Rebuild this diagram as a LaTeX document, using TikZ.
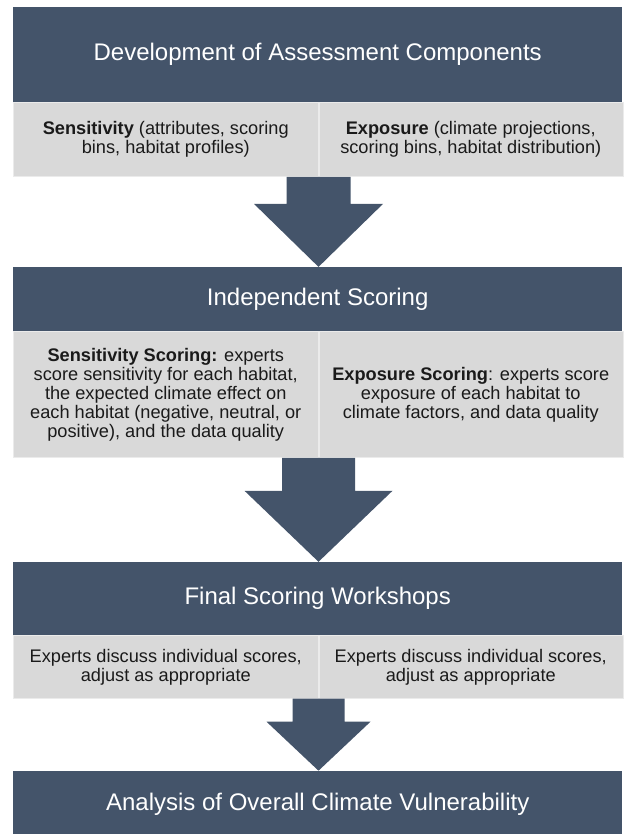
\documentclass[tikz,border=0pt]{standalone}
\usepackage{fontspec}
\setmainfont{Liberation Sans}
\usetikzlibrary{positioning,calc}

\definecolor{slate}{RGB}{68,84,106}
\definecolor{cellgray}{RGB}{217,217,217}
\definecolor{celltext}{RGB}{26,26,26}

\tikzset{
  header/.style={fill=slate, text=white, minimum width=609pt, inner sep=0pt, anchor=north west, font=\fontsize{24}{27}\selectfont},
  cell/.style={fill=cellgray, draw=white!92!black, line width=0.5pt, text=celltext, inner sep=0pt, anchor=north west, align=center, font=\fontsize{18.2}{19}\selectfont},
  flowarrow/.style={fill=slate}
}

% block arrow: from, to, shaft half width, head half width, shaft length
\newcommand{\blockarrow}[5]{%
  \fill[flowarrow] let \p1=(#1), \p2=(#2) in
    (\x1-#3,\y1) -- (\x1+#3,\y1) -- (\x1+#3,\y1-#5) -- (\x1+#4,\y1-#5)
    -- (\x1,\y2) -- (\x1-#4,\y1-#5) -- (\x1-#3,\y1-#5) -- cycle;}

\begin{document}
\begin{tikzpicture}[x=1pt,y=-1pt]
\useasboundingbox (0,0) rectangle (626,834);

% development
\node[header, minimum height=95pt] (dev) at (13,7) {Development of Assessment Components};
\node[cell, minimum width=305pt, minimum height=74pt] (devsens) at (dev.south west) {\textbf{Sensitivity} (attributes, scoring\\bins, habitat profiles)};
\node[cell, minimum width=304pt, minimum height=74pt] (devexpo) at (devsens.north east) {\textbf{Exposure} (climate projections,\\scoring bins, habitat distribution)};

% independent scoring
\node[header, minimum height=64pt, below=90pt of devsens.south west, anchor=north west] (indep) {Independent Scoring};
\node[cell, minimum width=305pt, minimum height=126pt] (indepsens) at (indep.south west) {\textbf{Sensitivity Scoring:} experts\\score sensitivity for each habitat,\\the expected climate effect on\\each habitat (negative, neutral, or\\positive), and the data quality};
\node[cell, minimum width=304pt, minimum height=126pt] (indepexpo) at (indepsens.north east) {\textbf{Exposure Scoring}: experts score\\exposure of each habitat to\\climate factors, and data quality};

% final workshops
\node[header, minimum height=73pt, below=104pt of indepsens.south west, anchor=north west] (final) {Final Scoring Workshops};
\node[cell, minimum width=305pt, minimum height=63pt] (finalsens) at (final.south west) {Experts discuss individual scores,\\adjust as appropriate};
\node[cell, minimum width=304pt, minimum height=63pt] (finalexpo) at (finalsens.north east) {Experts discuss individual scores,\\adjust as appropriate};

% analysis
\node[header, minimum height=66pt, below=72pt of finalsens.south west, anchor=north west] (analysis) {Analysis of Overall Climate Vulnerability};

% arrows
\blockarrow{devsens.south east}{indep.north}{32pt}{64.5pt}{27pt}
\blockarrow{indepsens.south east}{final.north}{36.5pt}{74pt}{33pt}
\blockarrow{finalsens.south east}{analysis.north}{26pt}{52pt}{23pt}
\end{tikzpicture}
\end{document}
